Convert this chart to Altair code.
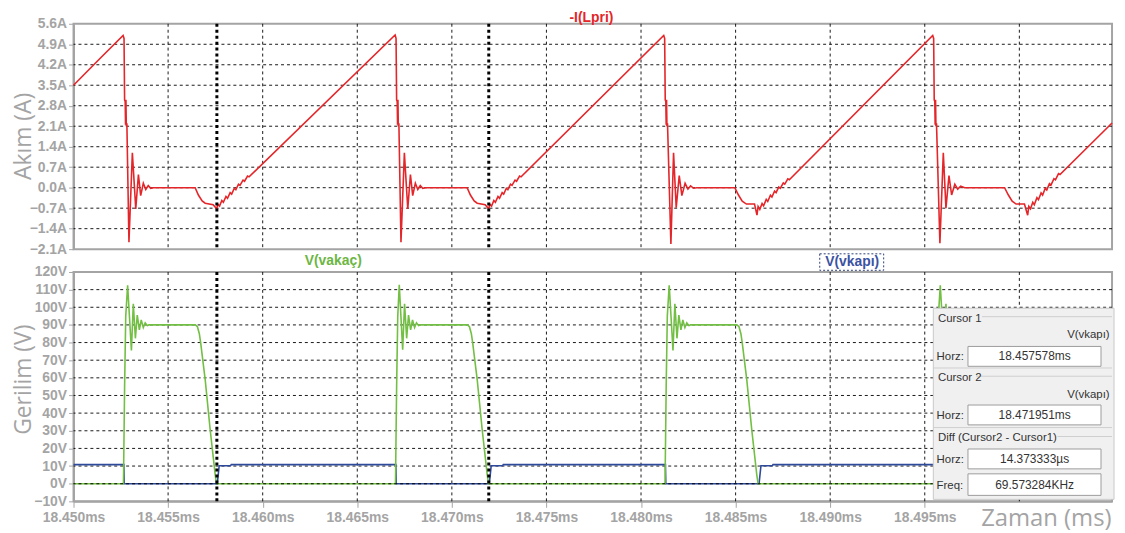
import altair as alt
import pandas as pd

T0_MS = 18.450  # start of the time window, ms

# ---------------- data ----------------
# -I(Lpri): time in microseconds after 18.450 ms, current in A
i_t_us = [
    0.00, 1.45, 2.62,
    2.67, 2.70, 2.73, 2.75, 2.77, 2.79, 2.82, 2.93, 3.11, 3.29, 3.43, 3.55, 3.69, 3.82, 3.95, 4.08, 4.23,
    6.43, 6.60, 6.80, 6.96, 7.38, 7.57,
    7.63, 7.72, 7.84, 7.92, 8.06, 8.14, 8.28, 8.36, 8.50, 8.58, 8.72, 8.80, 8.96, 9.04, 9.20, 9.28,
    17.00,
    17.05, 17.08, 17.11, 17.13, 17.15, 17.17, 17.20, 17.31, 17.49, 17.67, 17.81, 17.93, 18.07, 18.20, 18.33, 18.46, 18.61,
    20.81, 20.98, 21.18, 21.34, 21.76, 21.95,
    22.01, 22.10, 22.22, 22.30, 22.44, 22.52, 22.66, 22.74, 22.88, 22.96, 23.10, 23.18, 23.34, 23.42, 23.58, 23.66,
    31.20,
    31.25, 31.28, 31.31, 31.33, 31.35, 31.37, 31.40, 31.58, 31.72, 31.86, 32.02, 32.16, 32.33, 32.48, 32.62, 32.78, 32.95,
    34.96, 35.15, 35.35, 35.57, 36.00, 36.13,
    36.19, 36.28, 36.40, 36.48, 36.62, 36.70, 36.84, 36.92, 37.06, 37.14, 37.28, 37.36, 37.52, 37.60, 37.76, 37.84,
    45.42,
    45.47, 45.50, 45.53, 45.55, 45.57, 45.59, 45.62, 45.80, 45.98, 46.12, 46.28, 46.42, 46.59, 46.74, 46.90, 47.11,
    49.22, 49.42, 49.62, 49.83, 50.27, 50.44,
    50.50, 50.59, 50.71, 50.79, 50.93, 51.01, 51.15, 51.23, 51.37, 51.45, 51.59, 51.67, 51.83, 51.91, 52.07, 52.15,
    54.90,
]
i_amp = [
    3.50, 4.45, 5.20,
    5.10, 3.00, 2.95, 2.15, 3.00, 2.10, 2.20, -1.86, 1.19, -0.73, 0.45, -0.27, 0.15, -0.06, 0.07, -0.02, 0.00,
    0.00, -0.25, -0.45, -0.53, -0.58, -0.72,
    -0.57, -0.63, -0.44, -0.50, -0.30, -0.36, -0.17, -0.22, -0.02, -0.07, 0.12, 0.08, 0.26, 0.22, 0.40, 0.37,
    5.22,
    5.10, 3.00, 2.95, 2.15, 3.00, 2.10, 2.20, -1.86, 1.19, -0.73, 0.45, -0.27, 0.15, -0.06, 0.07, -0.02, 0.00,
    0.00, -0.25, -0.45, -0.53, -0.58, -0.72,
    -0.57, -0.63, -0.44, -0.50, -0.30, -0.36, -0.17, -0.22, -0.02, -0.07, 0.12, 0.08, 0.26, 0.22, 0.40, 0.37,
    5.20,
    5.10, 3.00, 2.95, 2.15, 3.00, 2.10, 2.20, -1.92, 1.19, -0.68, 0.41, -0.27, 0.15, -0.05, 0.06, -0.02, 0.00,
    0.00, -0.25, -0.46, -0.56, -0.56, -0.94,
    -0.64, -0.74, -0.54, -0.62, -0.40, -0.47, -0.26, -0.32, -0.12, -0.17, 0.02, -0.02, 0.16, 0.12, 0.30, 0.27,
    5.20,
    5.10, 3.00, 2.95, 2.15, 3.00, 2.10, 2.20, -1.90, 1.19, -0.70, 0.41, -0.25, 0.12, -0.05, 0.05, 0.00,
    0.00, -0.25, -0.46, -0.56, -0.56, -0.94,
    -0.64, -0.72, -0.50, -0.58, -0.34, -0.41, -0.18, -0.25, -0.02, -0.08, 0.14, 0.09, 0.31, 0.27, 0.48, 0.45,
    2.21,
]

# V(vakaç): time in microseconds after 18.450 ms, voltage in V
vd_t_us = [
    0.00, 2.64,
    2.70, 2.76, 2.86, 3.06, 3.16, 3.27, 3.37, 3.48, 3.58, 3.69, 3.79, 3.90, 3.98,
    6.44, 6.55, 6.65, 6.72, 6.96, 7.22, 7.49, 7.56, 17.02,
    17.08, 17.14, 17.22, 17.40, 17.50, 17.61, 17.71, 17.82, 17.92, 18.03, 18.13, 18.24, 18.32,
    20.82, 20.93, 21.03, 21.10, 21.34, 21.60, 21.87, 21.94, 31.27,
    31.33, 31.39, 31.49, 31.69, 31.79, 31.90, 32.00, 32.11, 32.21, 32.32, 32.42, 32.53, 32.61,
    35.07, 35.18, 35.28, 35.35, 35.59, 35.85, 36.12, 36.19, 45.60,
    45.66, 45.72, 45.82, 46.02, 46.12, 46.23, 46.33, 46.44, 46.54, 46.65, 46.75, 46.86, 46.94,
    49.40, 49.51, 49.61, 49.68, 49.92, 50.18, 50.45, 50.52, 54.90,
]
vd_volt = [
    0, 0,
    55, 95, 112.5, 75.5, 102, 82.4, 95.6, 87.2, 92.8, 88.5, 91.2, 89.6, 90,
    90, 89, 85, 80, 59, 31, 5, 0, 0,
    55, 95, 112.8, 75.9, 102, 82.4, 95.6, 87.2, 92.8, 88.5, 91.2, 89.6, 90,
    90, 89, 85, 80, 59, 31, 5, 0, 0,
    55, 95, 112.5, 75.5, 102, 82.4, 95.6, 87.2, 92.8, 88.5, 91.2, 89.6, 90,
    90, 89, 85, 80, 59, 31, 5, 0, 0,
    55, 95, 112.5, 75.5, 102, 82.4, 95.6, 87.2, 92.8, 88.5, 91.2, 89.6, 90,
    90, 89, 85, 80, 59, 31, 5, 0, 0,
]

# V(vkapı): time in microseconds after 18.450 ms, voltage in V
vg_t_us = [
    0.00, 2.66, 2.68, 7.60, 7.70, 8.30, 8.34,
    17.04, 17.06, 21.98, 22.08, 22.68, 22.72,
    31.29, 31.31, 36.24, 36.34, 36.94, 36.98,
    45.62, 45.64, 50.55, 50.65, 51.25, 51.29, 54.90,
]
vg_volt = [
    10.8, 10.8, 0, 0, 10.2, 10.2, 10.8,
    10.8, 0, 0, 10.2, 10.2, 10.8,
    10.8, 0, 0, 10.2, 10.2, 10.8,
    10.8, 0, 0, 10.2, 10.2, 10.8, 10.8,
]

x_domain_ms = [18.450, 18.5049]
x_grid_ms = [18.455, 18.460, 18.465, 18.470, 18.475, 18.480, 18.485, 18.490, 18.495, 18.500]
x_label_ms = [18.450, 18.455, 18.460, 18.465, 18.470, 18.475, 18.480, 18.485, 18.490, 18.495]
i_ticks = [-2.1, -1.4, -0.7, 0.0, 0.7, 1.4, 2.1, 2.8, 3.5, 4.2, 4.9, 5.6]
v_ticks = [-10, 0, 10, 20, 30, 40, 50, 60, 70, 80, 90, 100, 110, 120]
cursor_ms = [18.457578, 18.471951]
cursor_texts = ["18.457578ms", "18.471951ms", "14.373333µs", "69.573284KHz"]

# ---------------- frames ----------------
df_i = pd.DataFrame({"t": [T0_MS + u / 1000 for u in i_t_us], "v": i_amp})
df_i["i"] = range(len(df_i))
df_vd = pd.DataFrame({"t": [T0_MS + u / 1000 for u in vd_t_us], "v": vd_volt})
df_vd["i"] = range(len(df_vd))
df_vg = pd.DataFrame({"t": [T0_MS + u / 1000 for u in vg_t_us], "v": vg_volt})
df_vg["i"] = range(len(df_vg))
df_xgrid = pd.DataFrame({"t": x_grid_ms})
df_igrid = pd.DataFrame({"v": i_ticks[1:-1]})
df_vgrid = pd.DataFrame({"v": v_ticks[1:-1]})
df_vzero = pd.DataFrame({"v": [0]})
df_cur = pd.DataFrame({"t": cursor_ms})
one = pd.DataFrame({"_": [0]})

# ---------------- style ----------------
W, H1, H2 = 1046, 227, 231
GRAY = "#a4a4a4"
LFONT = "Liberation Sans"
RED, GREEN, BLUE = "#e4262a", "#72bf44", "#2e4a9a"

x_scale = alt.Scale(domain=x_domain_ms, nice=False, zero=False)
i_scale = alt.Scale(domain=[-2.1, 5.6], nice=False, zero=False)
v_scale = alt.Scale(domain=[-10, 120], nice=False, zero=False)

common_axis = dict(
    labelFont=LFONT, labelFontSize=14, labelFontWeight="bold", labelColor=GRAY,
    tickColor=GRAY, domainColor=GRAY, domainWidth=2, grid=False, labelOverlap=False,
    labelFlush=False, titleFont="Open Sans", titleFontSize=23, titleFontWeight="normal",
    titleColor=GRAY,
)
i_axis = alt.Axis(
    values=i_ticks, labelExpr="format(datum.value, '.1f') + 'A'", title="Akım (A)",
    titleX=-50, titleY=113, titleAngle=-90, titleAlign="center", titleBaseline="middle",
    tickSize=5, labelPadding=2, **common_axis,
)
v_axis = alt.Axis(
    values=v_ticks, labelExpr="format(datum.value, 'd') + 'V'", title="Gerilim (V)",
    titleX=-50, titleY=108, titleAngle=-90, titleAlign="center", titleBaseline="middle",
    tickSize=5, labelPadding=2, **common_axis,
)
x_axis = alt.Axis(
    values=x_label_ms, labelExpr="format(datum.value, '.3f') + 'ms'", title="Zaman (ms)",
    titleX=W - 1, titleY=24, titleAlign="right", titleBaseline="alphabetic",
    titleFontSize=24, tickSize=6, labelPadding=3,
    **{k: v for k, v in common_axis.items() if k != "titleFontSize"},
)

grid_style = dict(color="#000000", strokeDash=[3, 3], strokeWidth=1, opacity=0.9)


def xgrid(axis):
    return alt.Chart(df_xgrid).mark_rule(**grid_style).encode(
        x=alt.X("t:Q", scale=x_scale, axis=axis))


def ygrid(df, scale, axis):
    return alt.Chart(df).mark_rule(**grid_style).encode(
        y=alt.Y("v:Q", scale=scale, axis=axis))


def trace(df, color, scale, xaxis, yaxis):
    return alt.Chart(df).mark_line(color=color, strokeWidth=1.6).encode(
        x=alt.X("t:Q", scale=x_scale, axis=xaxis),
        y=alt.Y("v:Q", scale=scale, axis=yaxis),
        order="i:Q",
    )


def cursors(axis):
    return alt.Chart(df_cur).mark_rule(color="black", strokeWidth=3, strokeDash=[3, 3]).encode(
        x=alt.X("t:Q", scale=x_scale, axis=axis))


def label(txt, x, y, color, size=14, weight="bold", align="center", baseline="middle", font=LFONT):
    return alt.Chart(one).mark_text(
        text=txt, color=color, fontSize=size, fontWeight=weight, align=align,
        baseline=baseline, font=font,
    ).encode(x=alt.value(x), y=alt.value(y))


def box(x, x2, y, y2, fill, stroke, dash=None, sw=1):
    kw = dict(fill=fill, stroke=stroke, strokeWidth=sw)
    if dash:
        kw["strokeDash"] = dash
    return alt.Chart(one).mark_rect(**kw).encode(
        x=alt.value(x), x2=alt.value(x2), y=alt.value(y), y2=alt.value(y2))


def hline(x, x2, y, color="#cfcfcf"):
    return alt.Chart(one).mark_rule(color=color, strokeWidth=1).encode(
        x=alt.value(x), x2=alt.value(x2), y=alt.value(y))


# ---------------- top panel ----------------
top = alt.layer(
    xgrid(None),
    ygrid(df_igrid, i_scale, i_axis),
    trace(df_i, RED, i_scale, None, i_axis),
    cursors(None),
    label("-I(Lpri)", 521.6, -6, RED),
).properties(width=W, height=H1)

# ---------------- bottom panel ----------------
ui_font = 11.5
ui_col = "#333333"
panel = [
    box(866, 1048, 36.5, 229, "#f0f0f0", "#c9c9c9"),
    hline(915, 1046, 45),
    hline(866, 1046, 96.7),
    hline(909, 1046, 105),
    hline(866, 1046, 156.7),
    hline(991, 1046, 165.7),
    box(900.9, 1034.9, 75, 95, "white", "#9c9c9c"),
    box(900.9, 1034.9, 134, 154, "white", "#9c9c9c"),
    box(900.9, 1034.9, 178.3, 198.3, "white", "#9c9c9c"),
    box(900.9, 1034.9, 203.3, 225, "white", "#9c9c9c"),
    label("Cursor 1", 870.6, 50, ui_col, ui_font, "normal", "left", "alphabetic"),
    label("V(vkapı)", 1043.6, 66.7, ui_col, ui_font, "normal", "right", "alphabetic"),
    label("Horz:", 869.3, 89, ui_col, ui_font, "normal", "left", "alphabetic"),
    label(cursor_texts[0], 968, 89, ui_col, 12, "normal", "center", "alphabetic"),
    label("Cursor 2", 870.6, 110, ui_col, ui_font, "normal", "left", "alphabetic"),
    label("V(vkapı)", 1043.6, 126.7, ui_col, ui_font, "normal", "right", "alphabetic"),
    label("Horz:", 869.3, 148, ui_col, ui_font, "normal", "left", "alphabetic"),
    label(cursor_texts[1], 968, 148, ui_col, 12, "normal", "center", "alphabetic"),
    label("Diff (Cursor2 - Cursor1)", 870.6, 170, ui_col, ui_font, "normal", "left", "alphabetic"),
    label("Horz:", 869.3, 192.5, ui_col, ui_font, "normal", "left", "alphabetic"),
    label(cursor_texts[2], 968, 192.5, ui_col, 12, "normal", "center", "alphabetic"),
    label("Freq:", 869.3, 218.5, ui_col, ui_font, "normal", "left", "alphabetic"),
    label(cursor_texts[3], 968, 218.5, ui_col, 12, "normal", "center", "alphabetic"),
]

bottom = alt.layer(
    xgrid(x_axis),
    ygrid(df_vgrid, v_scale, v_axis),
    trace(df_vg, BLUE, v_scale, x_axis, v_axis),
    trace(df_vd, GREEN, v_scale, x_axis, v_axis),
    ygrid(df_vzero, v_scale, v_axis),
    cursors(x_axis),
    label("V(vakaç)", 261.6, -11, "#6cb643"),
    box(751.6, 816, -18.3, -1.7, "transparent", "#2e3f7a", dash=[2, 2]),
    label("V(vkapı)", 784.3, -10, "#3b52a3"),
    *panel,
).properties(width=W, height=H2)

chart = alt.vconcat(top, bottom, spacing=23, bounds="flush").properties(
    padding={"left": 4, "top": 0, "right": 0, "bottom": 0}
).configure_view(stroke=GRAY, strokeWidth=2)

chart.save("out.html", embed_options={"renderer": "svg", "actions": False})
